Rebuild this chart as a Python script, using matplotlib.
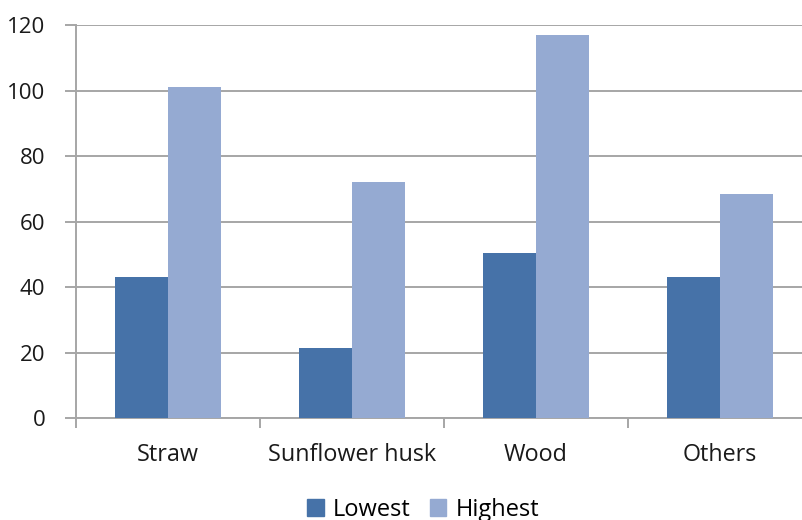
import matplotlib
matplotlib.use("Agg")
import matplotlib.pyplot as plt
import numpy as np
from matplotlib.patches import Patch

categories = ["Straw", "Sunflower husk", "Wood", "Others"]
lowest = [43, 21.4, 50.5, 43]
highest = [101, 72, 117, 68.4]
yticks = [0, 20, 40, 60, 80, 100, 120]

c_low = "#4672A8"
c_high = "#95AAD2"
grid_c = "#A6A6A6"

plt.rcParams["font.family"] = ["Open Sans", "DejaVu Sans"]

fig = plt.figure(figsize=(8.03, 5.20), dpi=100)
ax = fig.add_axes([76 / 803, 1 - 418.3 / 520, (812 - 76) / 803, (418.3 - 25) / 520])

x = np.arange(len(categories))
w = 1 / 3.5
ax.bar(x - w / 2, lowest, width=w, color=c_low, zorder=3)
ax.bar(x + w / 2, highest, width=w, color=c_high, zorder=3)

ax.set_xlim(-0.5, len(categories) - 0.5)
ax.set_ylim(0, 120)
ax.set_yticks(yticks)
ax.set_yticklabels([str(v) for v in yticks], fontsize=16, color="#1a1a1a")
ax.yaxis.grid(True, color=grid_c, linewidth=1.4, zorder=0)
ax.set_axisbelow(True)

ax.set_xticks(np.arange(-0.5, len(categories), 1.0))
ax.set_xticklabels([])
ax.set_xticks(x, minor=True)
ax.set_xticklabels(categories, minor=True, fontsize=16.8, color="#1a1a1a")
ax.tick_params(axis="x", which="minor", length=0, pad=18)
ax.tick_params(axis="x", which="major", length=7, width=1.4, color=grid_c, direction="out")
ax.tick_params(axis="y", length=8, width=1.4, color=grid_c, pad=14)

for s in ["top", "right"]:
    ax.spines[s].set_visible(False)
for s in ["left", "bottom"]:
    ax.spines[s].set_color(grid_c)
    ax.spines[s].set_linewidth(1.4)

handles = [Patch(color=c_low, label="Lowest"), Patch(color=c_high, label="Highest")]
fig.legend(handles=handles, loc="center", bbox_to_anchor=(0.527, 0.02), ncol=2,
           frameon=False, fontsize=17, handlelength=0.7, handleheight=0.7,
           handletextpad=0.4, columnspacing=0.8)

fig.savefig("out.png", dpi=100)
